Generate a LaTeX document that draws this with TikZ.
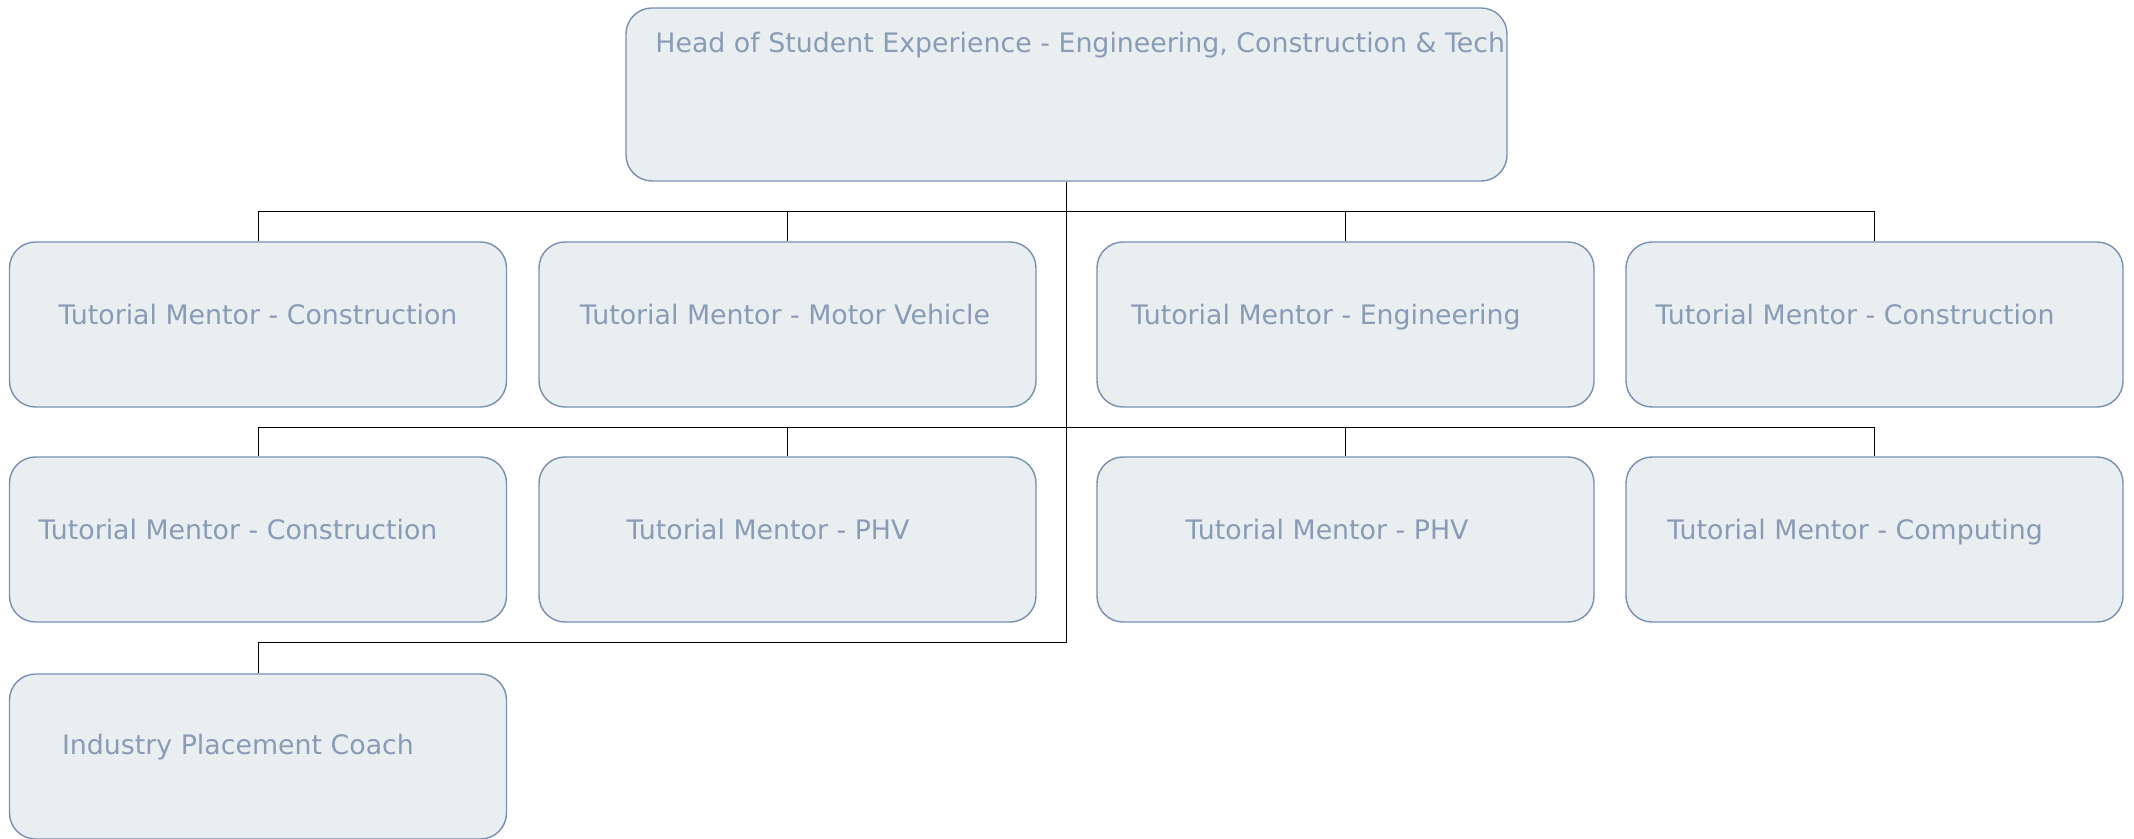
\documentclass[tikz,border=0pt]{standalone}
\usepackage{fontspec}
\setmainfont{DejaVu Sans}
\definecolor{boxfill}{HTML}{E9EEF1}
\definecolor{boxdraw}{HTML}{7A8FB0}
\definecolor{txt}{HTML}{8A9BB5}
\begin{document}
\begin{tikzpicture}[x=0.5pt,y=-0.5pt,
  card/.style={draw=boxdraw,fill=boxfill,line width=0.7pt,rounded corners=13pt,minimum width=248.5pt,minimum height=82.5pt,inner sep=0pt},
  lbl/.style={text=txt,font=\fontsize{13.4pt}{16pt}\selectfont,inner sep=0pt,anchor=center,text height=0.74em,text depth=0.22em},
  wire/.style={draw=black,line width=0.5pt}]
\useasboundingbox (0,0) rectangle (2134,839);
% boxes
\node[card,minimum width=440.5pt,minimum height=86.5pt] (top) at (1066.5,94.5) {};
\node[card] (a1) at (258,324.5) {};
\node[card] (a2) at (787.5,324.5) {};
\node[card] (a3) at (1345.5,324.5) {};
\node[card] (a4) at (1874.5,324.5) {};
\node[card] (b1) at (258,539.5) {};
\node[card] (b2) at (787.5,539.5) {};
\node[card] (b3) at (1345.5,539.5) {};
\node[card] (b4) at (1874.5,539.5) {};
\node[card] (c1) at (258,756.5) {};
% labels
\node[lbl,anchor=west] (ttop) at (655,47) {Head of Student Experience - Engineering, Construction \& Tech};
\node[lbl] (ta1) at (258,319) {Tutorial Mentor - Construction};
\node[lbl] (ta2) at (785,319) {Tutorial Mentor - Motor Vehicle};
\node[lbl] (ta3) at (1326,319) {Tutorial Mentor - Engineering};
\node[lbl] (ta4) at (1855,319) {Tutorial Mentor - Construction};
\node[lbl] (tb1) at (238,534) {Tutorial Mentor - Construction};
\node[lbl] (tb2) at (768,534) {Tutorial Mentor - PHV};
\node[lbl] (tb3) at (1327,534) {Tutorial Mentor - PHV};
\node[lbl] (tb4) at (1855,534) {Tutorial Mentor - Computing};
\node[lbl] (tc1) at (238,749) {Industry Placement Coach};
% bus levels
\coordinate (y1) at (0,212);
\coordinate (y2) at (0,427);
\coordinate (y3) at (0,642);
% connectors
\draw[wire] (top.south) -- (top.south |- y3) -- (c1.north |- y3) -- (c1.north);
\draw[wire] (a1.north |- y1) -- (a4.north |- y1);
\draw[wire] (b1.north |- y2) -- (b4.north |- y2);
\foreach \n in {a1,a2,a3,a4}{\draw[wire] (\n.north |- y1) -- (\n.north);}
\foreach \n in {b1,b2,b3,b4}{\draw[wire] (\n.north |- y2) -- (\n.north);}
\end{tikzpicture}
\end{document}
